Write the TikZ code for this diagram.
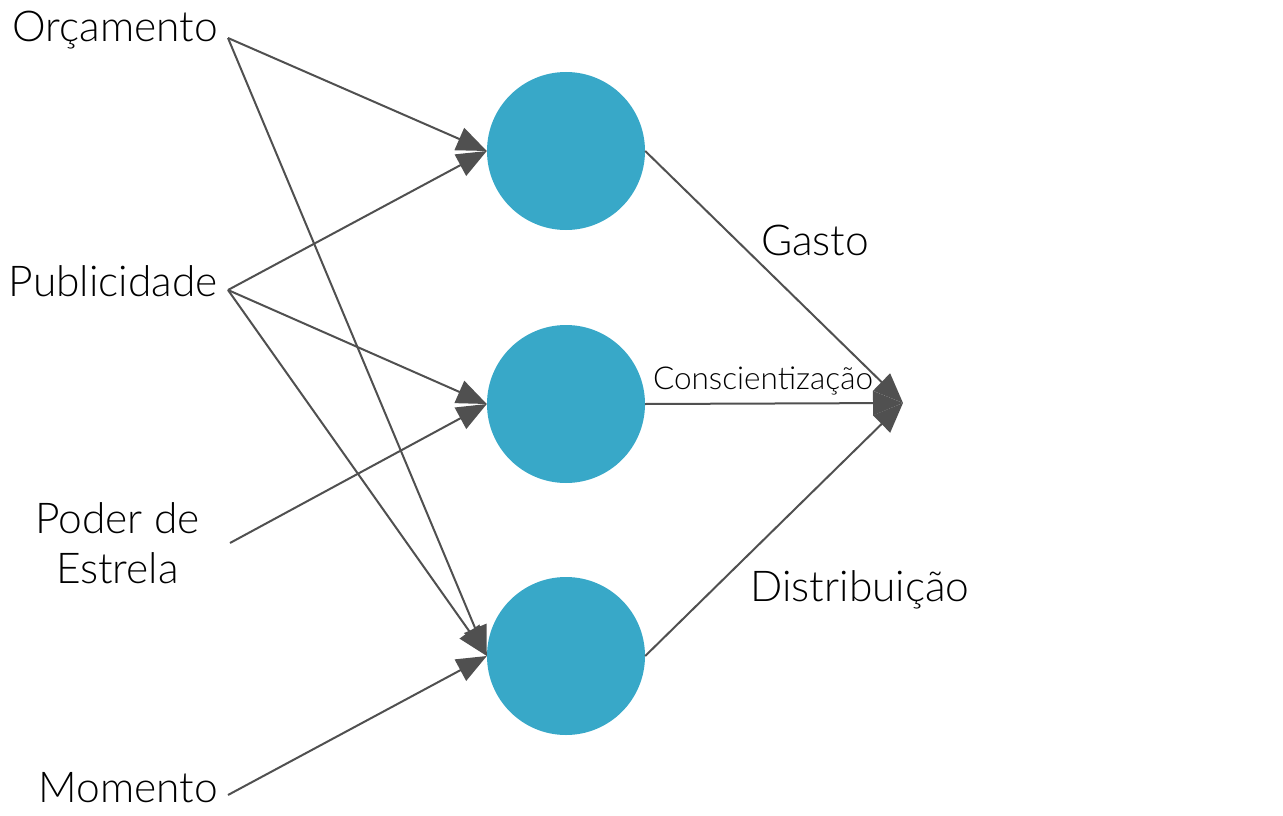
\documentclass[tikz,border=0pt]{standalone}
\usepackage{fontspec}
\setmainfont{Lato}[UprightFont=* Light]
\usepackage{tikz}
\usetikzlibrary{arrows.meta, positioning}
\definecolor{colUnit}{RGB}{56,168,200}
\definecolor{colLine}{RGB}{80,80,80}

\begin{document}
\begin{tikzpicture}[
  x=1pt, y=-1pt,
  unit/.style={circle, fill=colUnit, minimum size=158pt, inner sep=0pt},
  lbl/.style={font=\fontsize{42.5}{50}\selectfont, inner ysep=0pt, inner xsep=10pt, align=center},
  wlbl/.style={font=\fontsize{31.5}{36}\selectfont, inner sep=0pt},
  arr/.style={-{Triangle[length=30pt, width=24pt]}, line width=2pt, colLine},
]
\useasboundingbox (0,0) rectangle (1283,816);

\node[unit] (h1) at (566,151) {};
\node[unit] (h2) at (566,404) {};
\node[unit] (h3) at (566,656) {};
\coordinate (out) at (903,403);

\node[lbl, anchor=base east] (orc) at (228,42) {Orçamento};
\node[lbl, anchor=base east] (pub) at (228,296) {Publicidade};
\node[lbl, anchor=east, inner xsep=30pt] (star) at (230,543) {Poder de\\Estrela};
\node[lbl, anchor=base east] (mom) at (228,802) {Momento};

\node[lbl, inner sep=0pt] (gasto) at (815,240) {Gasto};
\node[wlbl] (consc) at (763,381) {Conscientização};
\node[lbl, inner sep=0pt] (dist) at (860,590) {Distribuição};

\draw[arr] ([yshift=4pt]orc.base east) -- (h1.west);
\draw[arr] ([yshift=4pt]orc.base east) -- (h3.west);
\draw[arr] ([yshift=6pt]pub.base east) -- (h1.west);
\draw[arr] ([yshift=6pt]pub.base east) -- (h2.west);
\draw[arr] ([yshift=6pt]pub.base east) -- (h3.west);
\draw[arr] (star.east) -- (h2.west);
\draw[arr] ([yshift=7pt]mom.base east) -- (h3.west);

\draw[arr] (h1.east) -- (out);
\draw[arr] (h2.east) -- (out);
\draw[arr] (h3.east) -- (out);
\end{tikzpicture}
\end{document}
